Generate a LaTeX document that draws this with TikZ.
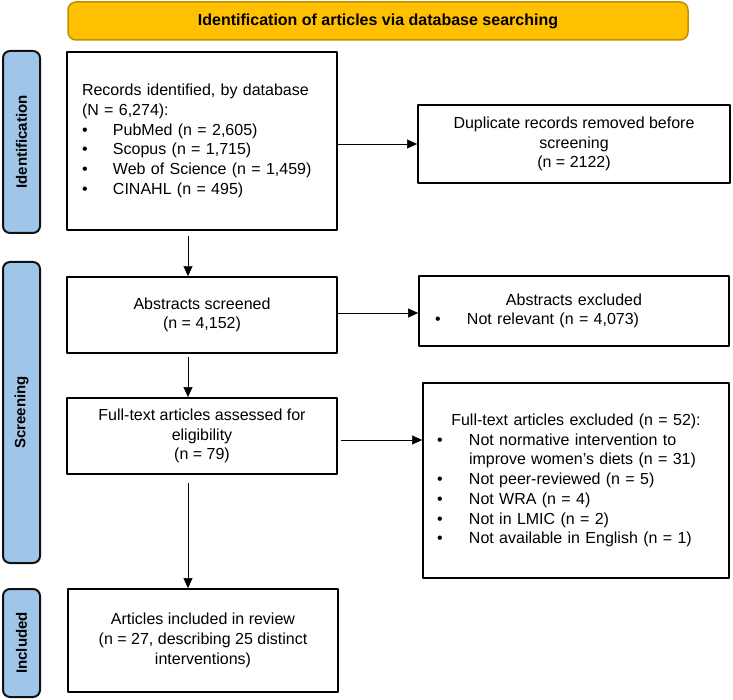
\documentclass[tikz,border=0pt]{standalone}
\usepackage{fontspec}
\setmainfont{Liberation Sans}
\usetikzlibrary{arrows.meta}
\definecolor{bannerfill}{HTML}{FFC000}
\definecolor{bannerline}{HTML}{BF9000}
\definecolor{phasefill}{HTML}{9FC5E8}
\definecolor{phaseline}{HTML}{111111}
\newcommand{\itm}[2][31pt]{\makebox[#1][l]{\textbullet}#2}
\tikzset{
	box/.style={draw, line width=1.8pt, inner sep=0pt, align=center, font=\fontsize{16}{19.7}\selectfont},
	phase/.style={draw=phaseline, fill=phasefill, line width=2pt, rounded corners=7pt, rotate=90, inner sep=0pt, minimum height=37pt, font=\fontsize{15}{18}\selectfont\bfseries},
	banner/.style={draw=bannerline, fill=bannerfill, line width=1.5pt, rounded corners=8pt, minimum width=620pt, minimum height=38pt, font=\fontsize{16}{19}\selectfont\bfseries}
}
\begin{document}
\begin{tikzpicture}[x=1pt, y=-1pt, line join=round, >={Triangle[length=10pt,width=9pt]}]
	\useasboundingbox (0,0) rectangle (733,700);
	\node[banner] (ban) at (378,21) {Identification of articles via database searching};
	\foreach \yc/\len/\nom in {142/182/Identification, 412.5/301/Screening, 643/108/Included}
		\node[phase, minimum width=\len pt] (\nom) at (21.5,\yc) {\nom};
	\node[box, minimum width=270pt, minimum height=178pt, text width=240pt, align=left] (rec) at (202,141)
		{Records identified, by database\\ (N = 6,274):\\ \itm{PubMed (n = 2,605)}\\ \itm{Scopus (n = 1,715)}\\ \itm{Web of Science (n = 1,459)}\\ \itm{CINAHL (n = 495)}};
	\node[box, minimum width=312pt, minimum height=78pt] (dup) at (574,144)
		{Duplicate records removed before\\ screening\\ (n = 2122)};
	\node[box, minimum width=270pt, minimum height=76pt] (abs) at (202,315)
		{Abstracts screened\\ (n = 4,152)};
	\node[box, minimum width=310pt, minimum height=70pt, text width=278pt, align=left] (absx) at (574,311)
		{\makebox[278pt]{Abstracts excluded}\\ \itm[32pt]{Not relevant (n = 4,073)}};
	\node[box, minimum width=270pt, minimum height=76pt] (ft) at (202,436)
		{Full-text articles assessed for\\ eligibility\\ (n = 79)};
	\node[box, minimum width=306pt, minimum height=195pt, text width=278pt, align=left] (ftx) at (576,480.5)
		{\makebox[278pt]{Full-text articles excluded (n = 52):}\\
		 \itm[32pt]{Not normative intervention to}\\ \hspace*{32pt}improve women’s diets (n = 31)\\
		 \itm[32pt]{Not peer-reviewed (n = 5)}\\ \itm[32pt]{Not WRA (n = 4)}\\
		 \itm[32pt]{Not in LMIC (n = 2)}\\ \itm[32pt]{Not available in English (n = 1)}};
	\node[box, minimum width=270pt, minimum height=103pt] (inc) at (203,640.5)
		{Articles included in review\\ (n = 27, describing 25 distinct\\ interventions)};
	\draw[->] (dup.west -| rec.east) -- (dup.west);
	\draw[->] ([yshift=2pt]abs.east) -- ([yshift=2pt]abs.east -| absx.west);
	\draw[->] ([xshift=3pt,yshift=-4pt]ft.east) -- ([yshift=-4pt]ft.east -| ftx.west);
	\draw[->] ([xshift=-14pt,yshift=-5pt]rec.south) -- ([xshift=-14pt]abs.north);
	\draw[->] ([xshift=-14pt,yshift=-3pt]abs.south) -- ([xshift=-14pt]ft.north);
	\draw[->] ([xshift=-14pt,yshift=-8pt]ft.south) -- ([xshift=-15pt]inc.north);
\end{tikzpicture}
\end{document}
